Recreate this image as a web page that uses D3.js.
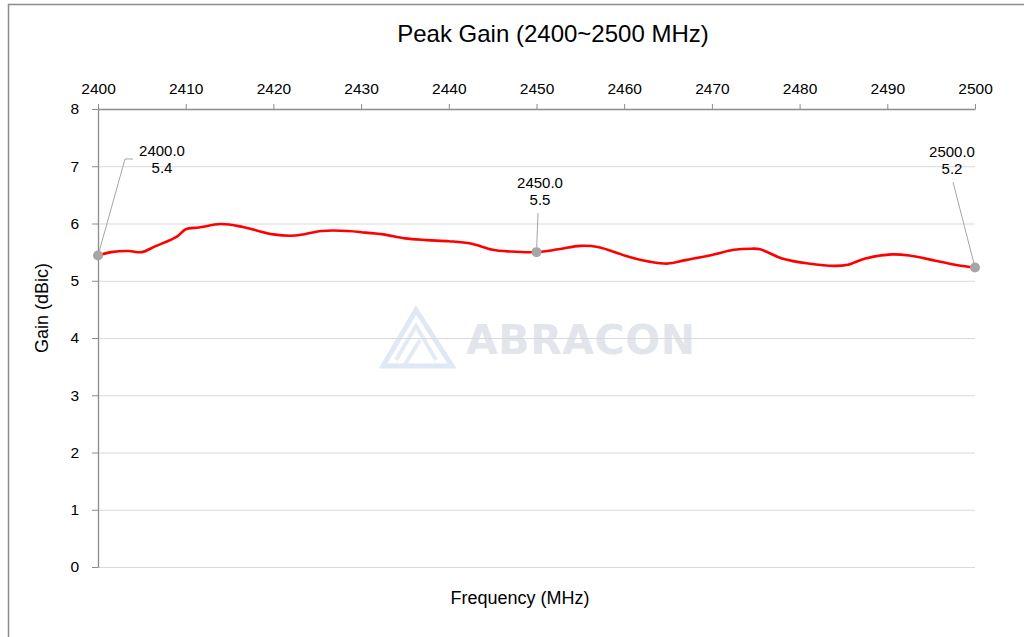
<!DOCTYPE html>
<html>
<head>
<meta charset="utf-8">
<script src="https://cdn.jsdelivr.net/npm/d3@7"></script>
<style>
  body { margin: 0; background: #fff; }
  text { font-family: "Liberation Sans", Arial, sans-serif; fill: #000; }
</style>
</head>
<body>
<div id="chart"></div>
<script>
// frequency (MHz) and peak gain (dBic)
const freqs = [2400, 2401.5, 2403.5, 2405, 2406.5, 2409, 2410, 2411.5, 2414, 2416.5, 2420, 2422.5,
  2425.5, 2428.5, 2430.5, 2432.5, 2435, 2437.5, 2440, 2442.5, 2445, 2447, 2450, 2452.5, 2455,
  2457, 2460.5, 2463, 2465, 2467, 2470, 2472.5, 2474.5, 2475.5, 2478, 2481, 2484, 2485.5, 2487.5,
  2490.5, 2492.5, 2495.5, 2498, 2500];
const gains = [5.44, 5.50, 5.52, 5.50, 5.60, 5.77, 5.90, 5.93, 5.99, 5.94, 5.81, 5.79,
  5.87, 5.87, 5.84, 5.81, 5.74, 5.71, 5.69, 5.65, 5.54, 5.51, 5.50, 5.55, 5.61,
  5.59, 5.42, 5.33, 5.30, 5.36, 5.45, 5.54, 5.56, 5.55, 5.39, 5.30, 5.26, 5.28, 5.39,
  5.46, 5.44, 5.35, 5.27, 5.23];
const xTicks = [2400, 2410, 2420, 2430, 2440, 2450, 2460, 2470, 2480, 2490, 2500];
const yTicks = [0, 1, 2, 3, 4, 5, 6, 7, 8];
// labelled markers: frequency, shown value
const markFreqs = [2400, 2450, 2500];
const markLabels = ["5.4", "5.5", "5.2"];

const W = 1024, H = 637;
const plotL = 98, plotR = 975, plotT = 109, plotB = 567;

let svg = d3.select("#chart").append("svg").attr("width", W).attr("height", H);

// outer frame
svg.append("rect").attr("x", 8.5).attr("y", 4.5).attr("width", 1040).attr("height", 700)
  .attr("fill", "none").attr("stroke", "#8c8c8c").attr("stroke-width", 1.5);

let x = d3.scaleLinear().domain([2400, 2500]).range([plotL, plotR]);
let y = d3.scaleLinear().domain([0, 8]).range([plotB, plotT]);

// watermark
let wm = svg.append("g");
wm.append("path")
  .attr("d", "M383,366 L416,310 L452,366 Z")
  .attr("fill", "none").attr("stroke", "#dfe8f6").attr("stroke-width", 5).attr("stroke-linejoin", "miter");
wm.append("path")
  .attr("d", "M396,360 L416,326 L436,360 M404,366 L420,340")
  .attr("fill", "none").attr("stroke", "#e3ebf7").attr("stroke-width", 4);
wm.append("text").attr("x", 466).attr("y", 354)
  .attr("textLength", 229)
  .style("font-family", "'DejaVu Sans', 'Liberation Sans', sans-serif")
  .style("font-weight", "bold").style("font-size", "41px")
  .style("fill", "#e3e5ec").text("ABRACON");

// gridlines
svg.append("g").selectAll("line").data(yTicks).join("line")
  .attr("x1", plotL).attr("x2", plotR)
  .attr("y1", d => y(d) + 0.5).attr("y2", d => y(d) + 0.5)
  .attr("stroke", "#d9d9d9").attr("stroke-width", 1.2);

// top axis
let xAxis = svg.append("g").attr("transform", `translate(0,${plotT})`)
  .call(d3.axisTop(x).tickValues(xTicks).tickSize(5).tickPadding(10).tickSizeOuter(0).tickFormat(d3.format("d")));
xAxis.select(".domain").attr("stroke", "#8c8c8c").attr("stroke-width", 1.3);
xAxis.selectAll(".tick line").attr("stroke", "#8c8c8c");
xAxis.selectAll("text").style("font-size", "15.5px").style("font-family", "'Liberation Sans', Arial, sans-serif");

// left axis
let yAxis = svg.append("g").attr("transform", `translate(${plotL},0)`)
  .call(d3.axisLeft(y).tickValues(yTicks).tickSize(6).tickPadding(13).tickSizeOuter(0));
yAxis.select(".domain").attr("stroke", "#8c8c8c").attr("stroke-width", 1.3);
yAxis.selectAll(".tick line").attr("stroke", "#8c8c8c");
yAxis.selectAll("text").style("font-size", "15.5px").style("font-family", "'Liberation Sans', Arial, sans-serif");

// title and axis titles
svg.append("text").attr("x", 553).attr("y", 42).attr("text-anchor", "middle")
  .style("font-size", "24px").text("Peak Gain (2400~2500 MHz)");
svg.append("text").attr("x", 520).attr("y", 604).attr("text-anchor", "middle")
  .style("font-size", "18px").text("Frequency (MHz)");
svg.append("text").attr("transform", "translate(48,308) rotate(-90)").attr("text-anchor", "middle")
  .style("font-size", "18px").text("Gain (dBic)");

// data line
let pts = freqs.map((f, i) => [f, gains[i]]);
svg.append("path").datum(pts)
  .attr("fill", "none").attr("stroke", "#ff0000").attr("stroke-width", 2.6)
  .attr("d", d3.line().x(d => x(d[0])).y(d => y(d[1])).curve(d3.curveCatmullRom.alpha(0.5)));

// markers with leader lines and labels
const gainAt = f => gains[freqs.indexOf(f)];
const labelPos = [[162, 151], [540, 183], [952, 152]];
const leaders = [
  [[0, 0], [125, 159], [133, 159]],
  [[0, 0], [538, 213]],
  [[0, 0], [953, 182]]
];
markFreqs.forEach((f, i) => {
  let px = x(f), py = y(gainAt(f));
  let ptsL = leaders[i].map((p, j) => j === 0 ? [px, py] : p);
  svg.append("path").attr("d", d3.line()(ptsL))
    .attr("fill", "none").attr("stroke", "#a6a6a6").attr("stroke-width", 1);
  svg.append("circle").attr("cx", px).attr("cy", py).attr("r", 5).attr("fill", "#a6a6a6");
  let t = svg.append("text").attr("text-anchor", "middle").style("font-size", "15px");
  t.append("tspan").attr("x", labelPos[i][0]).attr("y", labelPos[i][1] + 5).text(f.toFixed(1));
  t.append("tspan").attr("x", labelPos[i][0]).attr("y", labelPos[i][1] + 22).text(markLabels[i]);
});
</script>
</body>
</html>
